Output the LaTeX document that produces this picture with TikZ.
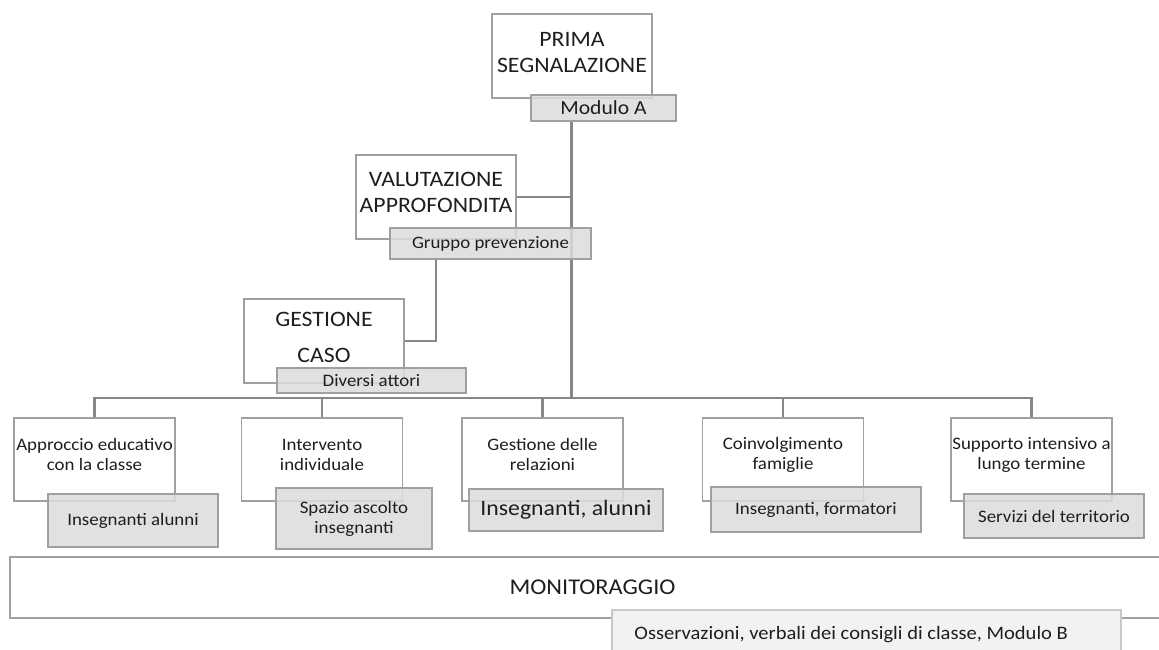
\documentclass[tikz,border=0pt]{standalone}
\usepackage{fontspec}
\setmainfont{Carlito}[FakeStretch=1.08]
\usepackage{tikz}
\usetikzlibrary{backgrounds, positioning}

\definecolor{boxgray}{HTML}{A0A0A0}
\definecolor{taggray}{HTML}{DCDCDC}
\definecolor{linegray}{HTML}{878787}
\definecolor{textgray}{HTML}{1E1E1E}
\definecolor{notegray}{HTML}{F2F2F2}
\definecolor{noteline}{HTML}{C8C8C8}

\begin{document}
\begin{tikzpicture}[x=1pt, y=-1pt,
  bigbox/.style={draw=boxgray, line width=1.8pt, fill=white, minimum width=160pt, minimum height=84pt, inner sep=0pt},
  tagbox/.style={draw=boxgray, line width=1.8pt, fill=taggray, fill opacity=0.85, text opacity=1, text=textgray, inner sep=0pt, align=center, font=\fontsize{17.5}{20}\selectfont},
  linkline/.style={draw=linegray, line width=2.5pt},
  titletext/.style={text=textgray, align=center, inner sep=0pt, font=\fontsize{22}{26}\selectfont},
  smalltext/.style={text=textgray, align=center, inner sep=0pt, font=\fontsize{17.5}{20}\selectfont}]

  % Picture size
  \useasboundingbox (0,0) rectangle (1159,650);
  \clip (0,0) rectangle (1159,650);

  % Steps of the procedure
  \node[bigbox] (prima) at (572,56) {};
  \node[titletext] (primaT) at ([yshift=3pt]prima.center) {PRIMA\\SEGNALAZIONE};
  \node[bigbox] (valut) at (436,197) {};
  \node[titletext] (valutT) at ([yshift=4.5pt]valut.center) {VALUTAZIONE\\APPROFONDITA};
  \node[bigbox] (gest) at (324,341) {};
  \node[titletext, font=\fontsize{22}{36}\selectfont] (gestT) at ([yshift=4pt]gest.center) {GESTIONE\\CASO};

  % Kinds of intervention
  \foreach \n/\x/\t in {appr/94.5/{Approccio educativo\\con la classe},
                        interv/322/{Intervento\\individuale},
                        relaz/542.5/{Gestione delle\\relazioni},
                        coinv/783/{Coinvolgimento\\famiglie},
                        supp/1031.5/{Supporto intensivo a\\lungo termine}}{
    \node[bigbox, minimum width=161pt, minimum height=83pt] (\n) at (\x,459.5) {};
    \node[smalltext] (\n T) at ([yshift=5pt]\n.center) {\t};
  }

  % Hub of the connectors
  \coordinate (hub) at (571,398);

  % Who is involved
  \node[tagbox, minimum width=145pt, minimum height=26pt, font=\fontsize{20}{24}\selectfont] (modA) at (603.5,108) {Modulo A};
  \node[tagbox, minimum width=201pt, minimum height=31pt] (grupp) at (490.5,243.5) {Gruppo prevenzione};
  \node[tagbox, minimum width=189pt, minimum height=25pt] (divers) at (371.5,380.5) {Diversi attori};
  \node[tagbox, minimum width=170pt, minimum height=53pt] (insAl) at (133,520.5) {Insegnanti alunni};
  \node[tagbox, minimum width=156pt, minimum height=61pt] (spazio) at (354,518.5) {Spazio ascolto\\insegnanti};
  \node[tagbox, minimum width=194pt, minimum height=42pt, font=\fontsize{22}{26}\selectfont] (insAl2) at (566,510) {Insegnanti, alunni};
  \node[tagbox, minimum width=210pt, minimum height=45pt] (insForm) at (816,509.5) {Insegnanti, formatori};
  \node[tagbox, minimum width=180pt, minimum height=44pt] (serv) at (1054,516) {Servizi del territorio};

  % Connectors, behind the boxes
  \begin{pgfonlayer}{background}
    \draw[linkline, line width=3pt] (modA.south -| hub) -- (hub);
    \draw[linkline] (valut.east) -- (valut.east -| hub);
    \draw[linkline] (grupp.south -| valut.center) |- (gest.east);
    \draw[linkline] (appr.north) |- (hub) -| (supp.north);
    \foreach \n in {interv, relaz, coinv}
      \draw[linkline] (\n.north) -- (\n.north |- hub);
  \end{pgfonlayer}

  % Monitoring band
  \node[draw=boxgray, line width=1.8pt, fill=white, minimum width=1165pt, minimum height=61pt, inner sep=0pt, text=textgray, font=\fontsize{22.5}{27}\selectfont] (monit) at (592.5,587.5) {MONITORAGGIO};
  \node[draw=noteline, line width=1.5pt, fill=notegray, minimum width=509pt, minimum height=55pt, inner sep=0pt] (osserv) at (866.5,637.5) {};
  \node[anchor=west, inner sep=0pt, text=textgray, font=\fontsize{19}{23}\selectfont] (osservT) at ([xshift=23pt, yshift=2.5pt]osserv.west) {Osservazioni, verbali dei consigli di classe, Modulo B};

\end{tikzpicture}
\end{document}
